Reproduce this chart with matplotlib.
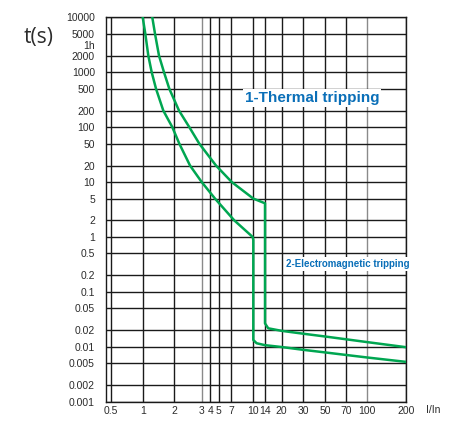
import numpy as np
from matplotlib import pyplot as plt
from matplotlib.scale import FuncScale

# tick values
x_ticks = [0.5, 1, 2, 3, 4, 5, 7, 10, 14, 20, 30, 50, 70, 100, 200]
y_ticks = [0.001, 0.002, 0.005, 0.01, 0.02, 0.05, 0.1, 0.2, 0.5, 1, 2, 5,
           10, 20, 50, 100, 200, 500, 1000, 2000, 5000, 10000]

# curve 1 (lower / faster): thermal part, then magnetic step at 10 In
curve1_i = [1.0, 1.059, 1.131, 1.218, 1.339, 1.571, 1.914, 2.154, 2.523, 3.0,
            4.53, 7.35, 9.9, 10, 10, 11.0, 14, 20, 30, 50, 70, 100, 200]
curve1_t = [10000, 5000, 2000, 1000, 500, 200, 100, 50, 20, 10,
            5, 2, 1, 0.88, 0.0133, 0.0116, 0.0107, 0.0099,
            0.0088, 0.0079, 0.0071, 0.0064, 0.0053]

# curve 2 (upper / slower): thermal part, then magnetic step at 14 In
curve2_i = [1.234, 1.31, 1.43, 1.595, 1.792, 2.144, 2.497, 2.895, 4.65, 7.05,
            10, 14, 14, 15.0, 20, 30, 50, 70, 100, 200]
curve2_t = [10000, 5000, 2000, 1000, 500, 200, 100, 50, 20, 10,
            5, 4.1, 0.0267, 0.0217, 0.0195, 0.0173, 0.0154, 0.0137,
            0.0122, 0.0098]

# the printed x axis is not a clean log scale: piecewise-log grid spacing
scale_vals = np.log10([0.25] + x_ticks + [400])
scale_pos = [79.4, 111, 142.7, 174.3, 201.7, 210.3, 218.7, 231.3, 253.3,
             265, 281.7, 303.3, 325, 346, 366.7, 406.5, 446.3]


def fwd(x):
    x = np.clip(np.asarray(x, dtype=float), 1e-6, None)
    return np.interp(np.log10(x), scale_vals, scale_pos)


def inv(p):
    return 10 ** np.interp(np.asarray(p, dtype=float), scale_pos, scale_vals)


GREEN = "#00a651"
BLUE = "#0a6fb8"
TXT = "#2b2b2b"

fig = plt.figure(figsize=(4.55, 4.23), dpi=100)
ax = fig.add_axes([106 / 455, 21.3 / 423, 300.5 / 455, 384.4 / 423])

ax.set_xscale(FuncScale(ax.xaxis, (fwd, inv)))
ax.set_yscale("log")
ax.set_xlim(0.448, 200)
ax.set_ylim(0.001, 10000)

# grid
for v in x_ticks:
    light = v in (3, 100)
    ax.axvline(v, color="#8a8a8a" if light else "#1a1a1a", lw=1.0, zorder=1)
for v in y_ticks:
    ax.axhline(v, color="#1a1a1a", lw=1.0, zorder=1)

ax.plot(curve1_i, curve1_t, color=GREEN, lw=1.8, zorder=3, solid_joinstyle="round")
ax.plot(curve2_i, curve2_t, color=GREEN, lw=1.8, zorder=3, solid_joinstyle="round")

###
# ticks / labels
tick_font = ["Liberation Sans", "DejaVu Sans"]
ax.set_xticks(x_ticks)
ax.set_xticklabels([f"{v:g}" for v in x_ticks], family=tick_font, fontsize=7.5, color=TXT)
ax.set_yticks(y_ticks)
ax.set_yticklabels([f"{v:g}" for v in y_ticks], family=tick_font, fontsize=7.5, color=TXT)
ax.minorticks_off()
ax.tick_params(axis="both", length=0)
ax.tick_params(axis="y", pad=8)
ax.tick_params(axis="x", pad=3)
for s in ax.spines.values():
    s.set_color("#1a1a1a")
    s.set_linewidth(1.0)

ax.text(-0.0366, 3000, "1h", transform=ax.get_yaxis_transform(), ha="right",
        va="center", family=tick_font, fontsize=7.5, color=TXT)
fig.text(0.9516, 0.0307, "I/In", ha="center", va="center", family=tick_font,
         fontsize=7.5, color=TXT)
fig.text(0.0846, 0.9113, "t(s)", ha="center", va="center",
         family=["Open Sans", "DejaVu Sans"], fontsize=15, color=TXT)

box = dict(facecolor="white", edgecolor="none", pad=1.5)
ax.text(0.6855, 0.7893, "1-Thermal tripping", transform=ax.transAxes, ha="center",
        va="center", family=tick_font, fontweight="bold", fontsize=11, color=BLUE,
        bbox=box, zorder=4)
ax.text(0.8037, 0.3582, "2-Electromagnetic tripping", transform=ax.transAxes,
        ha="center", va="center", family=tick_font, fontweight="bold", fontsize=7,
        color=BLUE, bbox=box, zorder=4, clip_on=False)
#
###

fig.savefig("out.png", dpi=100)
